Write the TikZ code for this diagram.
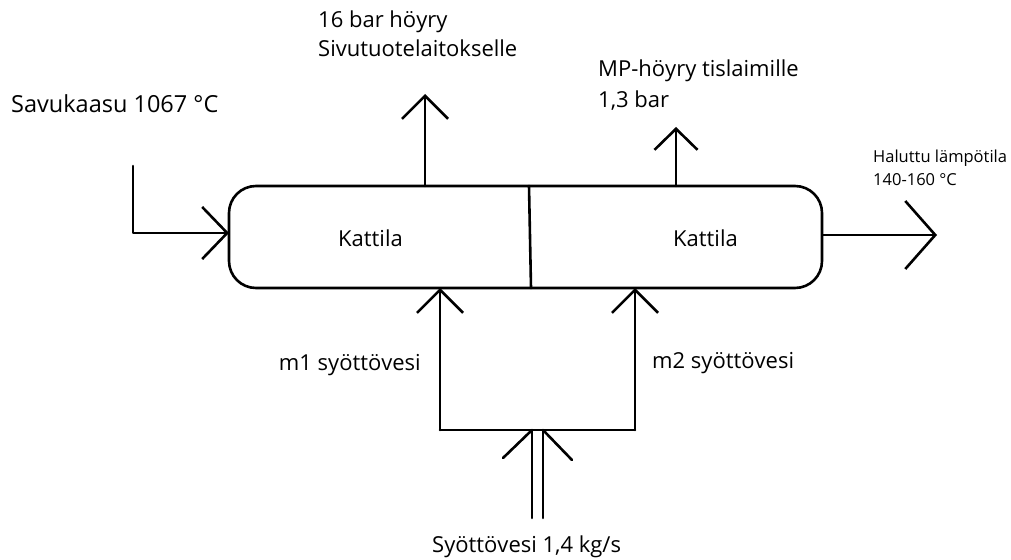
\documentclass[tikz,border=0pt]{standalone}
\usepackage{fontspec}
\setmainfont{Open Sans}
\usetikzlibrary{arrows.meta}
\begin{document}
\begin{tikzpicture}[x=1pt,y=-1pt,
  ln/.style={line width=2.6pt, line cap=round, line join=round},
  lbl/.style={inner sep=0pt, font=\fontsize{22}{26}\selectfont, anchor=base west},
  barb/.style 2 args={-{Straight Barb[length=#1,width=#2]}}]
\useasboundingbox (0,0) rectangle (1011,559);
% boiler
\node[draw, ln, rounded corners=27pt, minimum width=593pt, minimum height=102pt, inner sep=0pt] (box) at (525.5,237) {};
\coordinate (dt) at (529,186);
\coordinate (db) at (531,288);
\draw[ln] (dt) -- (db);
\node[lbl] (k1) at (338,246) {Kattila};
\node[lbl] (k2) at (673,246) {Kattila};
% flue gas in
\coordinate (sv) at (133,166);
\coordinate (bin) at (229,233);
\draw[ln, barb={25pt}{52pt}] (sv) |- (bin);
\node[lbl, font=\fontsize{23.5}{28}\selectfont] (tsv) at (11,113) {Savukaasu 1067 °C};
% 16 bar steam
\coordinate (s1b) at (425,186);
\coordinate (s1t) at (425,94);
\draw[ln, barb={23pt}{46pt}] (s1b) -- (s1t);
\node[lbl] (t16a) at (318,28) {16 bar höyry};
\node[lbl] (t16b) at (318,57) {Sivutuotelaitokselle};
% MP steam
\coordinate (s2b) at (676,186);
\coordinate (s2t) at (676,127);
\draw[ln, barb={21pt}{43pt}] (s2b) -- (s2t);
\node[lbl] (tmpa) at (598,77) {MP-höyry tislaimille};
\node[lbl] (tmpb) at (598,108) {1,3 bar};
% outlet
\coordinate (out) at (937,235);
\draw[ln, barb={30pt}{68pt}] (box.east |- out) -- (out);
\node[lbl, font=\fontsize{16.5}{20}\selectfont] (tha) at (873,162) {Haluttu lämpötila};
\node[lbl, font=\fontsize{16.5}{20}\selectfont] (thb) at (873,185) {140-160 °C};
% feed water
\coordinate (h1) at (440,430);
\coordinate (h2) at (635,430);
\coordinate (m1t) at (440,288);
\coordinate (m2t) at (635,288);
\draw[ln] (h1) -- (h2);
\draw[ln, barb={23pt}{46pt}] (h1) -- (m1t);
\draw[ln, barb={23pt}{46pt}] (h2) -- (m2t);
\node[lbl, anchor=base east] (tm1) at (421,370) {m1 syöttövesi};
\node[lbl] (tm2) at (652,368) {m2 syöttövesi};
% main feed (double line)
\coordinate (fa) at (532,518);
\coordinate (fat) at (532,430);
\coordinate (fb) at (543,518);
\coordinate (fbt) at (543,430);
\coordinate (fal) at (503,458);
\coordinate (fbr) at (572,460);
\draw[ln] (fa) -- (fat);
\draw[ln] (fb) -- (fbt);
\draw[ln] (fal) -- (fat);
\draw[ln] (fbr) -- (fbt);
\node[lbl] (tf) at (432,552) {Syöttövesi 1,4 kg/s};
\end{tikzpicture}
\end{document}
